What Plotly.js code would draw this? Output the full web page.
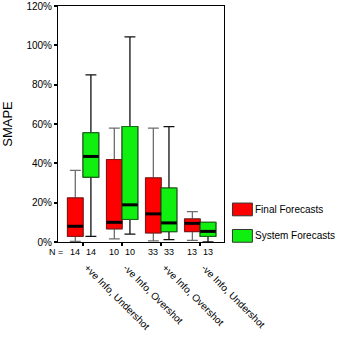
<!DOCTYPE html>
<html>
<head>
<meta charset="utf-8">
<script src="https://cdn.plot.ly/plotly-3.0.1.min.js"></script>
<style>
  html, body { margin: 0; padding: 0; background: #fff; }
  #chart { width: 340px; height: 340px; }
</style>
</head>
<body>
<div id="chart"></div>
<script>
// SMAPE distribution per information/adjustment category
const categories = ['+ve Info, Undershot', '-ve Info, Overshot', '+ve Info, Overshot', '-ve Info, Undershot'];

const finalN      = [14, 10, 33, 13];
const finalLower  = [0.3, 1.6, 0.6, 0.8];
const finalQ1     = [2.9, 6.7, 4.6, 5.3];
const finalMedian = [8.0, 10.0, 14.3, 9.5];
const finalQ3     = [22.4, 41.9, 32.6, 11.7];
const finalUpper  = [36.4, 57.9, 57.9, 15.4];

const systemN      = [14, 10, 33, 13];
const systemLower  = [2.9, 4.0, 1.2, 0.0];
const systemQ1     = [33.0, 11.5, 5.3, 2.9];
const systemMedian = [43.5, 18.9, 9.7, 5.4];
const systemQ3     = [55.5, 58.7, 27.4, 10.0];
const systemUpper  = [85.0, 104.3, 58.7, 10.0];

const yTicks = [0, 20, 40, 60, 80, 100, 120];
const yTickText = ['0%', '20%', '40%', '60%', '80%', '100%', '120%'];

const BOX_W = 0.4;
const idx = categories.map((_, i) => i);
const finalPos = idx.map(i => i - BOX_W / 2);
const systemPos = idx.map(i => i + BOX_W / 2);

function boxPair(pos, lower, q1, med, q3, upper, fill, whiskerColor, edgeColor) {
  const common = {
    type: 'box', x: pos, q1: q1, median: med, q3: q3,
    width: BOX_W, fillcolor: fill, boxpoints: false,
    hoverinfo: 'skip', showlegend: false
  };
  return [
    // whiskers and caps
    Object.assign({}, common, {
      lowerfence: lower, upperfence: upper, whiskerwidth: 0.7,
      line: { color: whiskerColor, width: 1.3 }
    }),
    // box body with its own edge colour
    Object.assign({}, common, {
      lowerfence: q1, upperfence: q3, whiskerwidth: 0,
      line: { color: edgeColor, width: 1 }
    })
  ];
}

const RED = '#ff0000';
const GREEN = '#10f010';

const data = [].concat(
  boxPair(finalPos, finalLower, finalQ1, finalMedian, finalQ3, finalUpper, RED, '#6e6e6e', '#8a1010'),
  boxPair(systemPos, systemLower, systemQ1, systemMedian, systemQ3, systemUpper, GREEN, '#111111', '#157015')
);

// heavy median bars
const shapes = [];
function medianBars(pos, med) {
  pos.forEach((p, i) => shapes.push({
    type: 'line', xref: 'x', yref: 'y', layer: 'above',
    x0: p - BOX_W / 2, x1: p + BOX_W / 2, y0: med[i], y1: med[i],
    line: { color: '#000', width: 3 }
  }));
}
medianBars(finalPos, finalMedian);
medianBars(systemPos, systemMedian);

// group sizes under each box
const annotations = [{
  xref: 'paper', yref: 'paper', x: 0.04, y: -0.043, xanchor: 'right', yanchor: 'middle',
  text: 'N =', showarrow: false, font: { size: 9, color: '#000' }
}];
function nLabels(pos, n) {
  pos.forEach((p, i) => annotations.push({
    xref: 'x', yref: 'paper', x: p, y: -0.043, xanchor: 'center', yanchor: 'middle',
    text: String(n[i]), showarrow: false, font: { size: 9, color: '#000' }
  }));
}
nLabels(finalPos, finalN);
nLabels(systemPos, systemN);

// legend keys
const legendItems = [
  { label: 'Final Forecasts', color: RED, y0: 0.111, y1: 0.165 },
  { label: 'System Forecasts', color: GREEN, y0: -0.001, y1: 0.053 }
];
legendItems.forEach(it => {
  shapes.push({
    type: 'rect', xref: 'paper', yref: 'paper',
    x0: 1.051, x1: 1.171, y0: it.y0, y1: it.y1,
    fillcolor: it.color, line: { color: '#333', width: 1 }
  });
  annotations.push({
    xref: 'paper', yref: 'paper', x: 1.175, y: (it.y0 + it.y1) / 2,
    xanchor: 'left', yanchor: 'middle', text: it.label, showarrow: false,
    font: { size: 10, color: '#000' }
  });
});

const layout = {
  width: 340, height: 340,
  margin: { l: 57.5, r: 116, t: 5.7, b: 97.5 },
  paper_bgcolor: '#fff', plot_bgcolor: '#fff',
  font: { family: 'Liberation Sans, Arial, sans-serif', size: 10, color: '#000' },
  boxmode: 'overlay',
  showlegend: false,
  xaxis: {
    range: [-0.643, 3.61], tickvals: idx, ticktext: categories,
    tickangle: 45, ticks: 'outside', ticklen: 3, tickwidth: 2, tickcolor: '#000',
    ticklabelstandoff: 12, ticklabelshift: 4,
    showline: true, linecolor: '#000', linewidth: 1, mirror: true,
    showgrid: false, zeroline: false, fixedrange: true,
    tickfont: { size: 10 }
  },
  yaxis: {
    range: [0, 120], tickvals: yTicks, ticktext: yTickText,
    ticks: 'outside', ticklen: 3, tickwidth: 2, tickcolor: '#000',
    showline: true, linecolor: '#000', linewidth: 1, mirror: true,
    showgrid: false, zeroline: false, fixedrange: true,
    tickfont: { size: 10 },
    title: { text: 'SMAPE', font: { size: 13 }, standoff: 12 }
  },
  shapes: shapes,
  annotations: annotations
};

Plotly.newPlot('chart', data, layout, { staticPlot: true, displayModeBar: false });
</script>
</body>
</html>
